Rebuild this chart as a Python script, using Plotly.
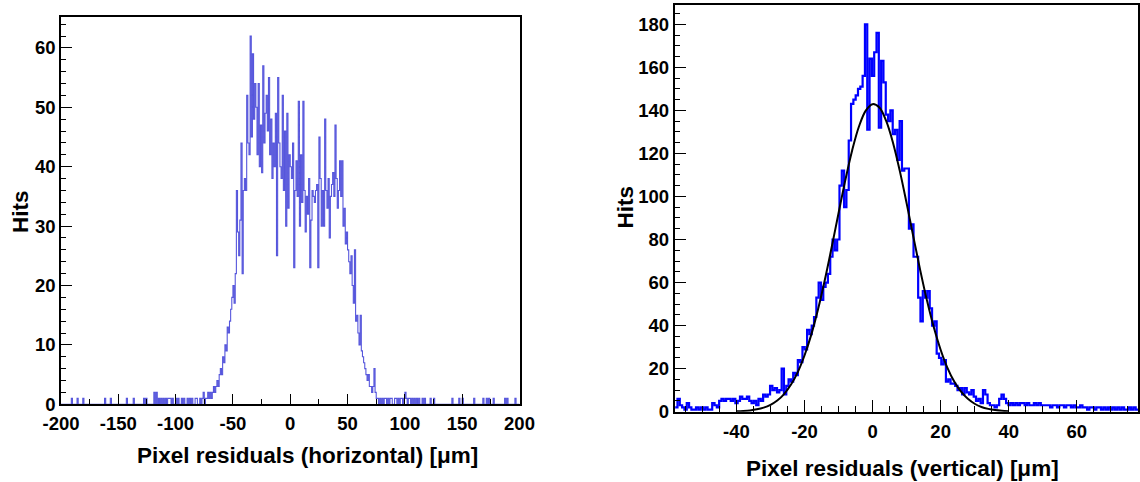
import numpy as np
import plotly.graph_objects as go

# ---------------- data ----------------
# Left: horizontal pixel residuals, 400 bins from -200 to 200 um
h_range = [-200, 200]
h_counts = [
    0, 0, 0, 0, 0, 0, 0, 0, 0, 1,        # -200
    0, 0, 0, 0, 1, 0, 0, 0, 0, 1,        # -190
    0, 0, 0, 0, 0, 0, 0, 0, 0, 0,        # -180
    0, 0, 0, 0, 0, 0, 0, 0, 1, 0,        # -170
    0, 0, 0, 1, 0, 0, 0, 0, 0, 0,        # -160
    0, 0, 0, 0, 0, 0, 0, 1, 0, 0,        # -150
    0, 0, 0, 1, 0, 0, 0, 0, 0, 0,        # -140
    0, 0, 1, 0, 1, 0, 0, 0, 0, 0,        # -130
    0, 2, 0, 2, 0, 1, 0, 1, 0, 1,        # -120
    0, 1, 0, 1, 1, 1, 0, 1, 0, 0,        # -110
    1, 0, 1, 0, 0, 1, 0, 1, 0, 0,        # -100
    1, 0, 1, 0, 1, 0, 0, 1, 1, 0,        # -90
    0, 1, 0, 1, 2, 0, 1, 1, 2, 1,        # -80
    2, 1, 2, 3, 2, 3, 4, 3, 5, 6,        # -70
    5, 8, 7, 10, 9, 13, 12, 14, 16, 18,  # -60
    20, 17, 22, 36, 29, 25, 31, 44, 22, 36,  # -50
    38, 36, 52, 44, 42, 62, 45, 59, 48, 54,  # -40
    50, 42, 54, 40, 47, 39, 57, 44, 49, 52,  # -30
    46, 55, 42, 48, 38, 44, 40, 49, 25, 55,  # -20
    44, 40, 38, 52, 36, 46, 30, 49, 33, 42,  # -10
    40, 38, 44, 23, 36, 41, 35, 51, 30, 42,  # 0
    34, 51, 36, 29, 35, 32, 38, 23, 31, 36,  # 10
    35, 34, 36, 37, 23, 45, 38, 30, 36, 30,  # 20
    48, 36, 33, 38, 28, 35, 37, 39, 35, 47,  # 30
    38, 33, 36, 41, 35, 41, 30, 33, 27, 29,  # 40
    26, 24, 22, 25, 20, 17, 26, 14, 15, 12,  # 50
    10, 15, 9, 8, 7, 6, 5, 4, 5, 3,      # 60
    3, 2, 3, 6, 2, 1, 1, 0, 1, 0,        # 70
    1, 0, 1, 1, 0, 1, 0, 1, 1, 0,        # 80
    0, 1, 1, 0, 1, 0, 1, 1, 0, 1,        # 90
    2, 1, 0, 1, 1, 0, 1, 0, 1, 0,        # 100
    1, 0, 1, 0, 0, 1, 0, 1, 0, 0,        # 110
    0, 0, 1, 0, 0, 1, 0, 0, 0, 0,        # 120
    0, 0, 0, 0, 0, 0, 0, 0, 0, 0,        # 130
    0, 1, 0, 0, 0, 0, 0, 1, 0, 0,        # 140
    1, 0, 0, 0, 0, 0, 0, 0, 0, 0,        # 150
    1, 0, 0, 0, 0, 0, 0, 0, 1, 0,        # 160
    0, 1, 0, 1, 0, 0, 0, 1, 0, 0,        # 170
    0, 0, 0, 0, 0, 0, 0, 1, 0, 1,        # 180
    0, 0, 0, 0, 0, 0, 1, 0, 0, 0,        # 190
]

# Right: vertical pixel residuals, 200 bins from -58 to 78 um
v_range = [-58, 78]
v_counts = [
    2, 6, 3, 2, 1, 4, 2, 1, 1, 2,
    1, 2, 1, 2, 1, 1, 4, 3, 2, 5,
    6, 5, 6, 6, 5, 6, 4, 5, 7, 6,
    6, 7, 5, 4, 5, 3, 6, 5, 8, 7,
    8, 12, 10, 11, 9, 10, 20, 8, 12, 15,
    14, 18, 17, 24, 23, 30, 29, 38, 36, 40,
    44, 53, 60, 52, 58, 60, 64, 72, 80, 75,
    80, 105, 112, 95, 103, 126, 143, 145, 147, 150,
    151, 156, 180, 131, 164, 156, 167, 176, 132, 163,
    153, 138, 135, 140, 129, 131, 117, 135, 112, 113,
    113, 85, 87, 72, 72, 53, 42, 56, 53, 56,
    48, 40, 42, 27, 25, 22, 24, 14, 15, 13,
    13, 12, 10, 11, 8, 11, 9, 8, 10, 7,
    5, 6, 4, 10, 8, 4, 3, 3, 2, 3,
    6, 8, 6, 4, 3, 4, 3, 4, 3, 4,
    4, 3, 4, 3, 3, 4, 3, 4, 3, 3,
    3, 3, 2, 3, 3, 2, 3, 3, 2, 3,
    3, 2, 3, 2, 2, 3, 2, 2, 1, 2,
    2, 1, 2, 2, 1, 2, 1, 2, 1, 2,
    1, 2, 1, 2, 1, 1, 2, 1, 2, 1,
]

# Gaussian fit curve
fit_x = list(range(-40, 41, 2))
fit_y = [0.17, 0.33, 0.61, 1.1, 1.9, 3.2, 5.2, 8.2, 12.5, 18.3,
         26.1, 35.8, 47.7, 61.4, 76.5, 92.2, 107.6, 121.4, 132.5, 139.9,
         142.9, 141.3, 135.1, 125.0, 111.9, 96.9, 81.2, 65.8, 51.6, 39.2,
         28.8, 20.4, 14.0, 9.3, 6.0, 3.7, 2.2, 1.3, 0.74, 0.40, 0.21]

left_xticks = [-200, -150, -100, -50, 0, 50, 100, 150, 200]
left_xlabels = ["-200", "-150", "-100", "-50", "0", "50", "100", "150", "200"]
left_yticks = [0, 10, 20, 30, 40, 50, 60]
right_xticks = [-40, -20, 0, 20, 40, 60]
right_xlabels = ["-40", "-20", "0", "20", "40", "60"]
right_yticks = [0, 20, 40, 60, 80, 100, 120, 140, 160, 180]

left_xtitle = "Pixel residuals (horizontal) [μm]"
right_xtitle = "Pixel residuals (vertical) [μm]"
ytitle = "Hits"

# ---------------- figure ----------------
W, H = 1140, 482
FONT = "Liberation Sans"


def step_xy(counts, rng):
    edges = np.linspace(rng[0], rng[1], len(counts) + 1)
    return edges, list(counts) + [counts[-1]]


fig = go.Figure()
lx, ly = step_xy(h_counts, h_range)
fig.add_trace(go.Scatter(x=lx, y=ly, mode="lines", line_shape="hv",
                         line=dict(color="#5656dc", width=1.1),
                         xaxis="x", yaxis="y", showlegend=False))
rx, ry = step_xy(v_counts, v_range)
fig.add_trace(go.Scatter(x=rx, y=ry, mode="lines", line_shape="hv",
                         line=dict(color="#0000ff", width=2.2),
                         xaxis="x2", yaxis="y2", showlegend=False))
fig.add_trace(go.Scatter(x=fit_x, y=fit_y, mode="lines", line_shape="spline",
                         line=dict(color="black", width=2),
                         xaxis="x2", yaxis="y2", showlegend=False))

tickfont = dict(family=FONT, size=18.5, color="black", weight="bold")
common = dict(showline=True, linecolor="black", linewidth=1.6, mirror=True,
              ticks="inside", tickcolor="black", tickwidth=1,
              showgrid=False, zeroline=False, tickfont=tickfont,
              automargin=False)


def px_x(p):
    return p / W


def px_y(p):
    return 1 - p / H


def minor(dt, ln):
    return dict(dtick=dt, tick0=0, ticklen=ln, ticks="inside",
                tickcolor="black", tickwidth=1, showgrid=False)


fig.update_layout(
    width=W, height=H, autosize=False,
    margin=dict(l=0, r=0, t=0, b=0, pad=0),
    paper_bgcolor="white", plot_bgcolor="white",
    xaxis=dict(domain=[px_x(61), px_x(519.5)], range=h_range,
               tickvals=left_xticks, ticktext=left_xlabels, ticklen=11,
               minor=minor(25, 5.5), anchor="y", ticklabelstandoff=2,
               **common),
    yaxis=dict(domain=[px_y(404.3), px_y(17.3)], range=[0, 65.15],
               tickvals=left_yticks, ticklen=11,
               minor=minor(2, 5.5), anchor="x", **common),
    xaxis2=dict(domain=[px_x(674.5), px_x(1138)], range=[-58.2, 78],
                tickvals=right_xticks, ticktext=right_xlabels, ticklen=12,
                minor=minor(5, 6), anchor="y2", ticklabelstandoff=2,
                **common),
    yaxis2=dict(domain=[px_y(411.7), px_y(4.7)], range=[0, 189.1],
                tickvals=right_yticks, ticklen=12,
                minor=minor(5, 6), anchor="x2", **common),
)

titlefont = dict(family=FONT, size=22.5, color="black", weight="bold")
ann = [
    dict(text=left_xtitle, x=px_x(307), y=px_y(455)),
    dict(text=right_xtitle, x=px_x(902), y=px_y(468)),
    dict(text=ytitle, x=px_x(20), y=px_y(212), textangle=-90),
    dict(text=ytitle, x=px_x(624.6), y=px_y(207), textangle=-90),
]
for a in ann:
    fig.add_annotation(xref="paper", yref="paper", showarrow=False,
                       xanchor="center", yanchor="middle", font=titlefont, **a)

fig.write_html("out.html")
